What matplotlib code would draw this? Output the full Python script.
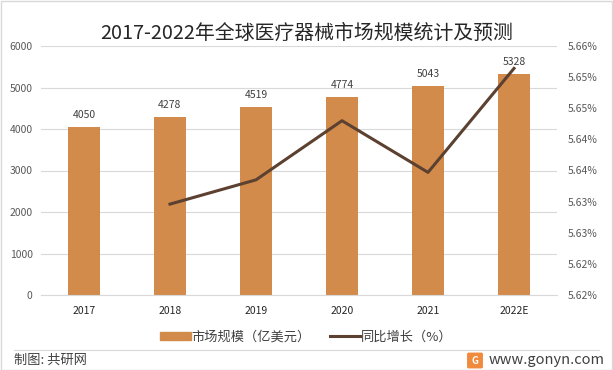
import matplotlib
matplotlib.use("Agg")
import matplotlib.pyplot as plt
from matplotlib.patches import Rectangle, FancyBboxPatch
from matplotlib.lines import Line2D

plt.rcParams['font.family'] = ['Noto Sans CJK SC', 'DejaVu Sans']

categories = ["2017", "2018", "2019", "2020", "2021", "2022E"]
market_size = [4050, 4278, 4519, 4774, 5043, 5328]
growth_years = ["2018", "2019", "2020", "2021", "2022E"]
growth_pct = [5.6296, 5.6335, 5.6430, 5.6347, 5.6514]
left_ticks = [0, 1000, 2000, 3000, 4000, 5000, 6000]
right_ticks = [5.615, 5.620, 5.625, 5.630, 5.635, 5.640, 5.645, 5.650, 5.655]
right_tick_labels = ["5.62%", "5.62%", "5.63%", "5.63%", "5.64%", "5.64%", "5.65%", "5.65%", "5.66%"]

title = "2017-2022年全球医疗器械市场规模统计及预测"
bar_label = "市场规模（亿美元）"
line_label = "同比增长（%）"

bar_color = "#D38B4C"
line_color = "#5C4130"
text_color = "#404040"

fig = plt.figure(figsize=(6.13, 3.70), dpi=100)
ax = fig.add_axes([41/613, 1-295/370, 516/613, 249/370])
ax2 = ax.twinx()

x = list(range(len(categories)))
ax.bar(x, market_size, width=0.38, color=bar_color, zorder=2)
for xi, v in zip(x, market_size):
    ax.text(xi, v + 170, f"{v}", ha="center", va="bottom", fontsize=7.5, color=text_color)

gx = [categories.index(c) for c in growth_years]
ax2.plot(gx, growth_pct, color=line_color, lw=2.2, zorder=3)

ax.set_xlim(-0.5, len(categories) - 0.5)
ax.set_ylim(0, 6000)
ax.set_yticks(left_ticks)
ax.set_yticklabels([str(t) for t in left_ticks])
ax.set_xticks(x)
ax.set_xticklabels(categories)
ax.grid(axis="y", color="#D9D9D9", lw=0.8, zorder=0)
ax.set_axisbelow(True)

ax2.set_ylim(5.615, 5.655)
ax2.set_yticks(right_ticks)
ax2.set_yticklabels(right_tick_labels)

for a in (ax, ax2):
    for s in a.spines.values():
        s.set_visible(False)
    a.tick_params(length=0, labelsize=7.5, labelcolor="#595959")
ax.spines["bottom"].set_visible(True)
ax.spines["bottom"].set_color("#D9D9D9")
ax.tick_params(axis="x", pad=8, labelcolor="#262626")
ax.tick_params(axis="y", pad=6)
ax2.tick_params(axis="y", pad=8)

fig.text(0.5, 1-33/370, title, ha="center", va="center", fontsize=14.3, color="#262626")

handles = [Rectangle((0, 0), 1, 1, color=bar_color), Line2D([0], [0], color=line_color, lw=2.2)]
fig.legend(handles, [bar_label, line_label], loc="center", bbox_to_anchor=(0.5, 1-337/370),
           ncol=2, frameon=False, fontsize=9.5, handlelength=2.3, handleheight=0.6,
           columnspacing=1.4, handletextpad=0.1, labelcolor="#404040")

fig.add_artist(Line2D([14/613, 599/613], [1-350/370, 1-350/370], color="#D9D9D9", lw=0.8))
fig.text(14/613, 1-360/370, "制图: 共研网", ha="left", va="center", fontsize=9.5,
         color="#404040", fontweight="medium")
fig.text(489/613, 1-360/370, "www.gonyn.com", ha="left", va="center", fontsize=10.5, color="#404040")
logo = FancyBboxPatch((469/613, 1-367/370), 12/613, 13/370, boxstyle="round,pad=0.002",
                      transform=fig.transFigure, color="#F08A3C")
fig.add_artist(logo)
fig.text(475/613, 1-360.5/370, "G", ha="center", va="center", fontsize=7, color="white", fontweight="bold")

fig.add_artist(Rectangle((0.5/613, 0.5/370), 611.5/613, 368.5/370, transform=fig.transFigure,
                         fill=False, edgecolor="#D9D9D9", lw=1))

fig.savefig("out.png", dpi=100)
